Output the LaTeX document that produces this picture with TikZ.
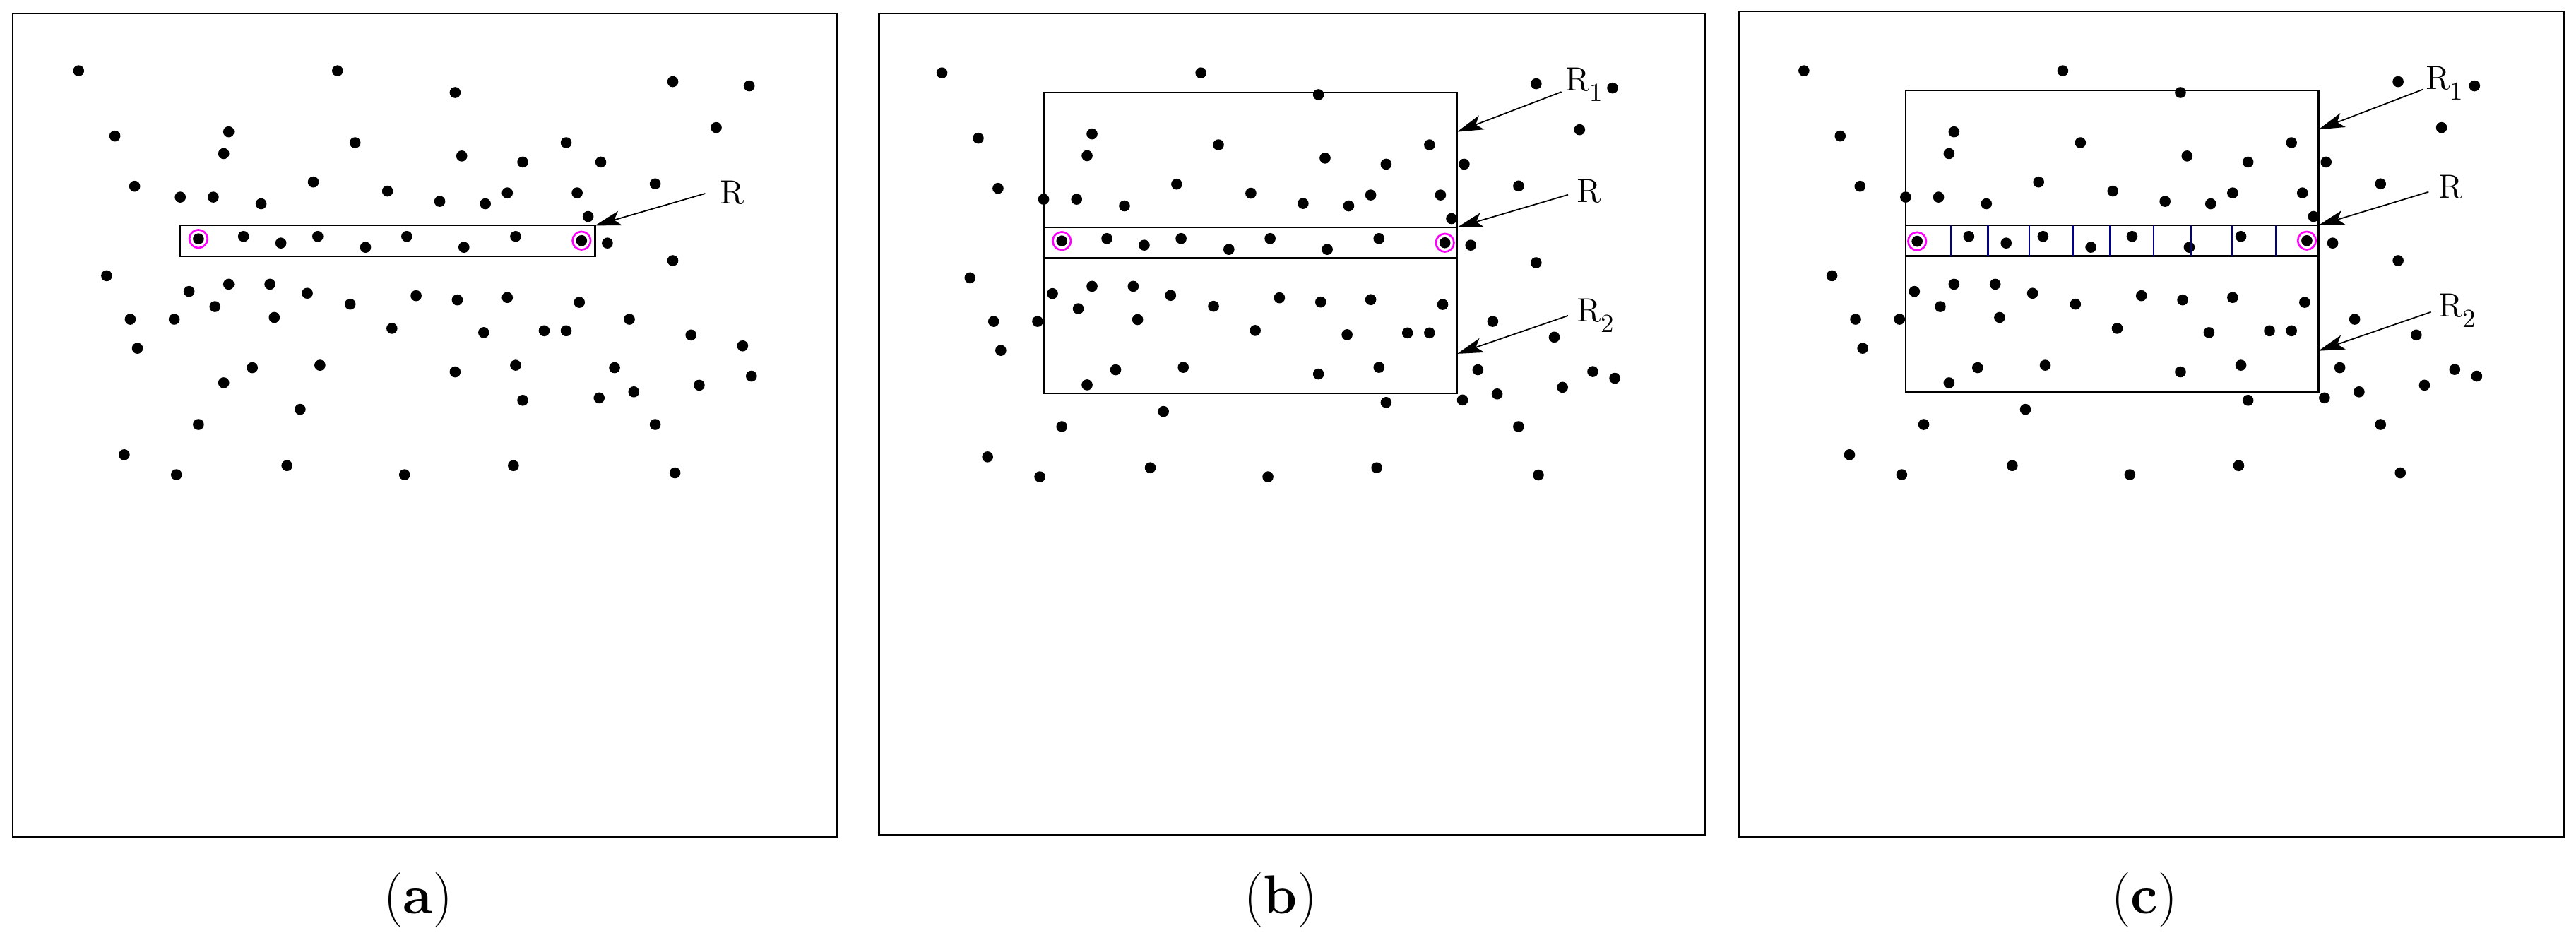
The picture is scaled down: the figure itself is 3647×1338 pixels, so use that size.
\documentclass[tikz,border=0pt]{standalone}
\usetikzlibrary{arrows.meta}
\definecolor{ringmag}{RGB}{255,0,255}
\definecolor{navyline}{RGB}{0,0,140}
\tikzset{
  framebox/.style={draw=black, line width=0.85pt},
  regionbox/.style={draw=black, line width=0.62pt},
  dotfill/.style={fill=black},
  ring/.style={draw=ringmag, line width=0.75pt},
  divider/.style={draw=navyline, line width=0.62pt},
  arr/.style={draw=black, line width=0.5pt, -{Stealth[length=10.5pt,width=6pt,inset=2.5pt]}},
  rlabel/.style={inner sep=0pt, anchor=base west, font=\fontsize{13.5}{16}\selectfont},
  caption/.style={inner sep=0pt, anchor=base, font=\fontsize{22}{26}\selectfont},
}
\newcommand\subnum[1]{{\fontsize{10.5}{12}\selectfont\raisebox{-4.3pt}{#1}}}
% #1,#2 shift; #3 extra dot (x/y); #4,#5 first strip dot
\newcommand\pointcloud[5]{%
  \begin{scope}[shift={(#1,#2)}]
    \foreach \px/\py in {143/117,614/117,828/153,1224/135,1363/142,
      209/225,416/218,407/254,646/236,840/258,951/268,1030/236,1093/268,1303/211,
      245/308,328/326,388/326,475/337,570/301,705/316,800/333,883/337,923/319,1050/319,1192/304,
      1070/358,
      443/391,511/402,578/391,665/409,740/391,844/409,938/391,1058/398,
      1105/402,1224/431,
      194/456,344/482,416/470,491/470,559/485,391/507,637/503,757/489,832/496,923/492,1054/500,
      237/528,317/528,499/525,713/543,880/550,990/547,1030/547,1145/528,1257/554,
      250/576,
      459/608,582/604,828/615,938/604,1118/608,1367/622,
      407/633,1272/637,1153/648,1090/658,951/662,
      546/677,361/702,1192/702,
      226/752,321/785,522/770,736/785,934/770,1228/782,
      #3,#4/#5}
      \fill[dotfill] ({\px/1.285},{\py/1.168}) circle[radius=7.8];
    \draw[ring] ({#4/1.285},{#5/1.168}) circle[radius=12.8];
    \draw[ring] ({1058/1.285},{398/1.168}) circle[radius=12.8];
  \end{scope}}
\begin{document}
\begin{tikzpicture}[x=0.1mm, y=-0.1mm]
  \useasboundingbox (0,0) rectangle (3647,1338);

  % ---------------- panel (a)
  \draw[framebox] (18,19) rectangle (1184,1185);
  \pointcloud{0}{0}{1351/572}{361}{395}
  \draw[regionbox] (255.3,319.3) rectangle (842.5,363.3);
  \node[rlabel] (Ra) at (1019,288.5) {R};
  \coordinate (Ra-tail) at (998.4,274);
  \coordinate (Ra-tip) at (842.5,319.3);
  \draw[arr] (Ra-tail) -- (Ra-tip);
  \node[caption] (capa) at (592,1293) {(\textbf{a})};

  % ---------------- panel (b)
  \draw[framebox] (1244,19) rectangle (2413,1182);
  \pointcloud{1222.3}{3}{1327/611}{361}{395}
  \draw[regionbox] (1477.6,131) rectangle (2063,557);
  \draw[regionbox] (1477.6,322) -- (2063,322);
  \draw[regionbox] (1477.6,365.5) -- (2063,365.5);
  \node[rlabel] (R1b) at (2216,128.4) {R\subnum{1}};
  \node[rlabel] (Rb) at (2231.7,286.8) {R};
  \node[rlabel] (R2b) at (2231.7,455.5) {R\subnum{2}};
  \coordinate (R1b-tail) at (2210.6,130.1);
  \coordinate (R1b-tip) at (2063,186.6);
  \coordinate (Rb-tail) at (2220,275.7);
  \coordinate (Rb-tip) at (2063,322);
  \coordinate (R2b-tail) at (2220,446.9);
  \coordinate (R2b-tip) at (2063,500.9);
  \draw[arr] (R1b-tail) -- (R1b-tip);
  \draw[arr] (Rb-tail) -- (Rb-tip);
  \draw[arr] (R2b-tail) -- (R2b-tip);
  \node[caption] (capb) at (1813,1293) {(\textbf{b})};

  % ---------------- panel (c)
  \draw[framebox] (2461,16) rectangle (3629,1185);
  \pointcloud{2442.6}{0}{1327/611}{349}{399}
  \draw[regionbox] (2697.9,128) rectangle (3282.5,555);
  \draw[regionbox] (2697.9,319) -- (3282.5,319);
  \draw[regionbox] (2697.9,362.5) -- (3282.5,362.5);
  \foreach \dx in {2762,2814.5,2873.3,2934.6,2987,3049,3101.8,3160.3,3222.2}
    \draw[divider] (\dx,319) -- (\dx,362.5);
  \node[rlabel] (R1c) at (3433.3,126.7) {R\subnum{1}};
  \node[rlabel] (Rc) at (3451.7,280) {R};
  \node[rlabel] (R2c) at (3451.7,448.3) {R\subnum{2}};
  \coordinate (R1c-tail) at (3430,126.7);
  \coordinate (R1c-tip) at (3282.5,183.3);
  \coordinate (Rc-tail) at (3438.3,271.7);
  \coordinate (Rc-tip) at (3282.5,319);
  \coordinate (R2c-tail) at (3441.7,441.7);
  \coordinate (R2c-tip) at (3282.5,496.7);
  \draw[arr] (R1c-tail) -- (R1c-tip);
  \draw[arr] (Rc-tail) -- (Rc-tip);
  \draw[arr] (R2c-tail) -- (R2c-tip);
  \node[caption] (capc) at (3036,1293) {(\textbf{c})};
\end{tikzpicture}
\end{document}
